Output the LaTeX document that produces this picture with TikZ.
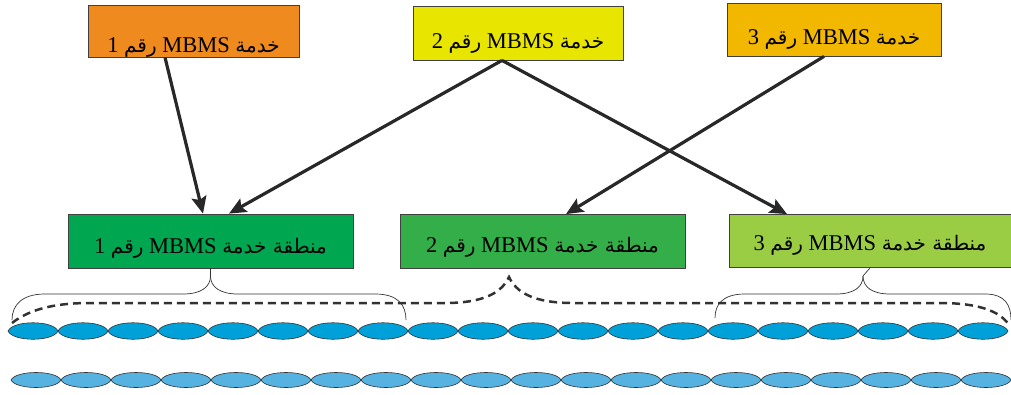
\documentclass[tikz,border=0pt]{standalone}
\usepackage{fontspec}
\setmainfont{Liberation Serif}
\newfontfamily\arabicfont[Script=Arabic]{DejaVu Sans}
\TeXXeTstate=1
\usetikzlibrary{arrows.meta,calc}

\definecolor{svcone}{RGB}{238,138,30}
\definecolor{svctwo}{RGB}{232,230,0}
\definecolor{svcthree}{RGB}{242,184,0}
\definecolor{areaone}{RGB}{0,166,80}
\definecolor{areatwo}{RGB}{51,174,72}
\definecolor{areathree}{RGB}{154,205,68}
\definecolor{boxline}{RGB}{64,64,64}
\definecolor{arrowgray}{RGB}{40,40,40}
\definecolor{cellone}{RGB}{0,160,216}
\definecolor{celltwo}{RGB}{86,178,224}
\definecolor{cellline}{RGB}{50,50,50}

% Arabic label pieces
\newcommand\artxt[1]{{\arabicfont\fontsize{20}{24}\selectfont #1}}
\newcommand\svclabel[1]{\beginR\artxt{خدمة} \beginL MBMS\endL{} \artxt{رقم} #1\endR}
\newcommand\arealabel[1]{\beginR\artxt{منطقة خدمة} \beginL MBMS\endL{} \artxt{رقم} #1\endR}

\tikzset{
  labelbox/.style={draw=boxline, line width=0.8pt, rectangle, inner sep=0pt,
    font=\fontsize{22.5}{26}\selectfont, text=black},
  link/.style={draw=arrowgray, line width=3.2pt,
    -{Stealth[length=17pt,width=15pt,inset=3pt]}},
  brace/.style={draw=cellline, line width=0.7pt},
  dashbrace/.style={draw=cellline, line width=2.5pt, dash pattern=on 8pt off 5pt},
  cell/.style={draw=cellline, line width=0.6pt}
}

\begin{document}
\begin{tikzpicture}[x=1pt,y=-1pt]
\useasboundingbox (0,0) rectangle (1011,394);

% services
\node[labelbox, fill=svcone, minimum width=211pt, minimum height=52pt,
      text height=45pt, text depth=3pt] (s1) at (193.5,31) {\svclabel{1}};
\node[labelbox, fill=svctwo, minimum width=210pt, minimum height=54pt,
      text height=33pt, text depth=3pt] (s2) at (518,33) {\svclabel{2}};
\node[labelbox, fill=svcthree, minimum width=214pt, minimum height=53pt,
      text height=32pt, text depth=3pt] (s3) at (834,29.5) {\svclabel{3}};

% service areas
\node[labelbox, fill=areaone, minimum width=285pt, minimum height=54pt,
      text height=27pt, text depth=3pt] (g1) at (210.5,241) {\arealabel{1}};
\node[labelbox, fill=areatwo, minimum width=285pt, minimum height=54pt,
      text height=25pt, text depth=3pt] (g2) at (542.5,241.5) {\arealabel{2}};
\node[labelbox, fill=areathree, minimum width=282pt, minimum height=53pt,
      text height=21pt, text depth=3pt] (g3) at (870,241) {\arealabel{3}};

% service-to-area links
\draw[link] ([xshift=-28.5pt]s1.south) -- ([xshift=-7.5pt]g1.north);
\draw[link] ([xshift=-16pt]s2.south) -- ([xshift=18.5pt]g1.north);
\draw[link] ([xshift=-16pt]s2.south) -- ([xshift=-83pt]g3.north);
\draw[link] ([xshift=-10pt]s3.south) -- ([xshift=23.5pt]g2.north);

% braces under areas 1 and 3
\draw[brace] (g1.south) -- (210.5,276)
  .. controls (210.5,287) and (201,294) .. (183,294) -- (45,294)
  .. controls (22,294) and (12,305) .. (12,320);
\draw[brace] (210.5,276)
  .. controls (210.5,287) and (220,294) .. (238,294) -- (375,294)
  .. controls (398,294) and (406,305) .. (406,320);
\draw[brace] (g3.south) -- (863,276)
  .. controls (863,287) and (854,294) .. (836,294) -- (745,294)
  .. controls (722,294) and (715,305) .. (715,318);
\draw[brace] (863,276)
  .. controls (863,287) and (872,294) .. (890,294) -- (985,294)
  .. controls (1005,294) and (1011,305) .. (1011,320);

% dashed brace spanning the whole row (area 2)
\draw[dashbrace] (12,323)
  .. controls (30,309) and (55,303) .. (90,303) -- (445,303)
  .. controls (485,303) and (502,292) .. (509,277)
  .. controls (516,292) and (533,303) .. (573,303) -- (940,303)
  .. controls (978,303) and (1000,311) .. (1009,325);

% cell rows
\foreach \i in {0,...,19}{
  \pgfmathsetmacro\xa{8+50*\i}
  \path[cell, fill=cellone] (\xa,331)
    .. controls (\xa+5,320) and (\xa+45,320) .. (\xa+50,331)
    .. controls (\xa+45,342) and (\xa+5,342) .. (\xa,331) -- cycle;
  \pgfmathsetmacro\xb{11+50*\i}
  \path[cell, fill=celltwo] (\xb,380)
    .. controls (\xb+5,370) and (\xb+45,370) .. (\xb+50,380)
    .. controls (\xb+45,390) and (\xb+5,390) .. (\xb,380) -- cycle;
}
\end{tikzpicture}
\end{document}
